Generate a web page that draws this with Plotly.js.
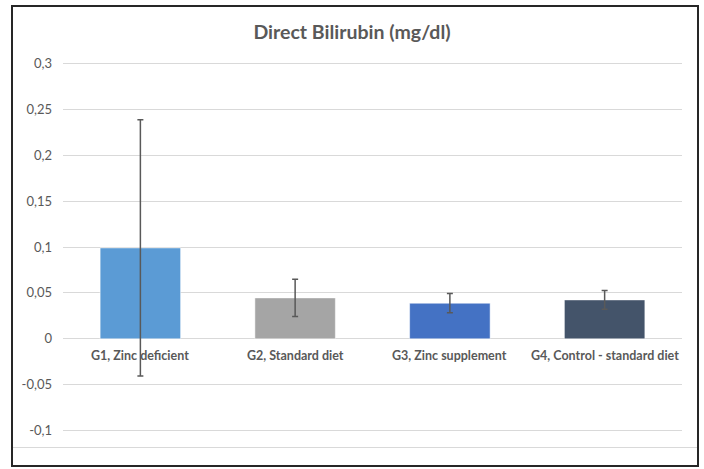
<!DOCTYPE html>
<html>
<head>
<meta charset="utf-8">
<script src="https://cdn.plot.ly/plotly-3.0.1.min.js"></script>
<style>
  html, body { margin: 0; padding: 0; background: #ffffff; }
  #wrap { position: relative; width: 704px; height: 469px; overflow: hidden; }
  #chart { position: absolute; left: 0; top: 0; width: 704px; height: 469px; }
  #frame { position: absolute; left: 11px; top: 5px; width: 684px; height: 458px;
           border: 2.5px solid #262626; pointer-events: none; }
  #sep { position: absolute; left: 13px; top: 447px; width: 684px; height: 1px;
         background: #d9d9d9; pointer-events: none; }
</style>
</head>
<body>
<div id="wrap">
  <div id="chart"></div>
  <div id="sep"></div>
  <div id="frame"></div>
</div>
<script>
const categories = ["G1, Zinc deficient", "G2, Standard diet", "G3, Zinc supplement", "G4, Control - standard diet"];
const values = [0.0990, 0.0446, 0.0388, 0.0424];
const errors = [0.1395, 0.0203, 0.0105, 0.0103];
const barColors = ["#5B9BD5", "#A5A5A5", "#4472C4", "#44546A"];
const tickValues = [-0.1, -0.05, 0, 0.05, 0.1, 0.15, 0.2, 0.25, 0.3];
const tickLabels = ["-0,1", "-0,05", "0", "0,05", "0,1", "0,15", "0,2", "0,25", "0,3"];

const font = "Lato, 'Open Sans', sans-serif";

const trace = {
  type: "bar",
  x: categories,
  y: values,
  marker: { color: barColors, line: { color: "rgba(255,255,255,0.5)", width: 1 } },
  error_y: { type: "data", array: errors, visible: true, color: "#595959", thickness: 1.5, width: 3 },
  hoverinfo: "none"
};

const annotations = categories.map(c => ({
  x: c, y: 0, xref: "x", yref: "y",
  text: "<b>" + c + "</b>",
  showarrow: false, yanchor: "top", yshift: -7,
  font: { family: font, size: 12.5, color: "#595959" }
}));

const layout = {
  width: 704, height: 469,
  margin: { l: 63, r: 22, t: 61, b: 36 },
  paper_bgcolor: "#ffffff", plot_bgcolor: "#ffffff",
  showlegend: false,
  bargap: 0.48,
  title: { text: "<b>Direct Bilirubin (mg/dl)</b>", x: 0.5, xanchor: "center",
           y: 1 - 32/469, yanchor: "middle", yref: "container",
           font: { family: font, size: 19.5, color: "#595959" } },
  xaxis: { showticklabels: false, showgrid: false, zeroline: false, showline: false, ticks: "", fixedrange: true },
  yaxis: { range: [-0.1025, 0.3025], tickmode: "array", tickvals: tickValues, ticktext: tickLabels,
           showgrid: true, gridcolor: "#d9d9d9", gridwidth: 1,
           zeroline: true, zerolinecolor: "#d9d9d9", zerolinewidth: 1,
           showline: false, ticks: "", ticklen: 0, ticklabelstandoff: 10,
           tickfont: { family: font, size: 13, color: "#595959" },
           fixedrange: true },
  annotations: annotations
};

Plotly.newPlot("chart", [trace], layout, { displayModeBar: false, staticPlot: true });
</script>
</body>
</html>
